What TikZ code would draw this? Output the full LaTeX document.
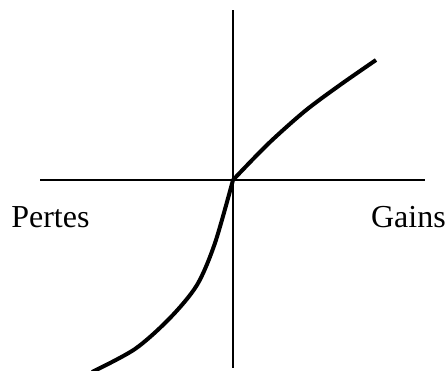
\documentclass[tikz,border=0pt]{standalone}
\usepackage{fontspec}
\setmainfont{Liberation Serif}
\usetikzlibrary{positioning}

\begin{document}
\begin{tikzpicture}[x=0.75pt, y=-0.75pt, font=\fontsize{24}{28}\selectfont,
    axis/.style={line width=1.5pt},
    courbe/.style={line width=3pt, line join=round}]
  \useasboundingbox (0,0) rectangle (447,371);
  % axes
  \coordinate (O) at (233,180);
  \coordinate (haut) at (233,10);
  \coordinate (bas) at (233,368);
  \coordinate (gauche) at (40,180);
  \coordinate (droite) at (425,180);
  \draw[axis] (haut) -- (bas);
  \draw[axis] (gauche) -- (droite);
  % labels
  \node[anchor=base west, inner sep=0pt] (pertes) at (11,227) {Pertes};
  \node[anchor=base east, inner sep=0pt] (gains) at (446,227) {Gains};
  % value function: losses side, then gains side
  \draw[courbe] plot[smooth, tension=0.5] coordinates {(92,372) (135,349) (170,318) (197,285) (215,243) (233,180)}
    plot[smooth, tension=0.5] coordinates {(233,180) (268,144) (305,111) (340,85) (376,60)};
\end{tikzpicture}
\end{document}
